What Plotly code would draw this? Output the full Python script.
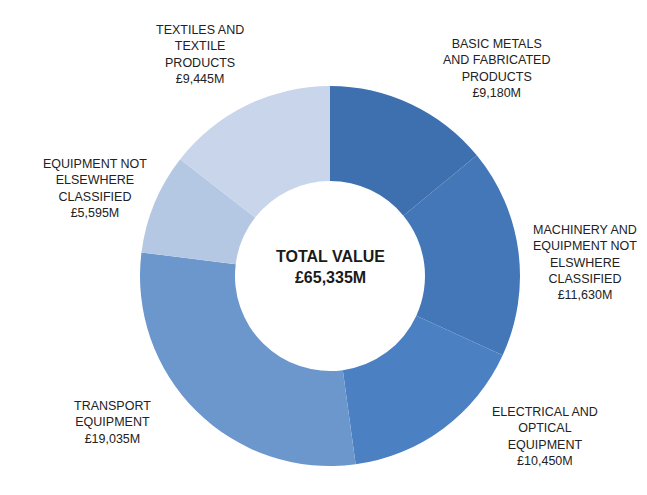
import plotly.graph_objects as go

categories = [
    "BASIC METALS<br>AND FABRICATED<br>PRODUCTS",
    "MACHINERY AND<br>EQUIPMENT NOT<br>ELSWHERE<br>CLASSIFIED",
    "ELECTRICAL AND<br>OPTICAL<br>EQUIPMENT",
    "TRANSPORT<br>EQUIPMENT",
    "EQUIPMENT NOT<br>ELSEWHERE<br>CLASSIFIED",
    "TEXTILES AND<br>TEXTILE<br>PRODUCTS",
]
values = [9180, 11630, 10450, 19035, 5595, 9445]
colors = ["#3E70B0", "#4377B8", "#4B80C3", "#6C97CD", "#B5C8E3", "#C8D5EA"]

# label anchor positions in page pixels (style only)
label_pos = [
    (496, 68), (585, 262), (545, 436), (112, 422), (95, 188), (200, 54),
]

W, H = 647, 495
OFF = 8  # browser default body margin
total = sum(values)


def px2x(px):
    return (px - OFF) / W


def py2y(py):
    return 1 - (py - OFF) / H


cx, cy, r = 330, 276, 190

fig = go.Figure(go.Pie(
    values=values,
    labels=[c.replace("<br>", " ") for c in categories],
    marker=dict(colors=colors, line=dict(width=0)),
    hole=0.5,
    sort=False,
    direction="clockwise",
    rotation=0,
    textinfo="none",
    hoverinfo="label+value",
    domain=dict(x=[px2x(cx - r), px2x(cx + r)],
                y=[py2y(cy + r), py2y(cy - r)]),
    showlegend=False,
))

annotations = []
for cat, val, (px, py) in zip(categories, values, label_pos):
    annotations.append(dict(
        x=px2x(px), y=py2y(py), xref="paper", yref="paper",
        text=f"{cat}<br>£{val:,}M", showarrow=False,
        xanchor="center", yanchor="middle", align="center",
        font=dict(family="Liberation Sans, Arial, sans-serif", size=12.5, color="#222222"),
    ))
annotations.append(dict(
    x=px2x(330), y=py2y(267), xref="paper", yref="paper",
    text=f"<b>TOTAL VALUE<br>£{total:,}M</b>", showarrow=False,
    xanchor="center", yanchor="middle", align="center",
    font=dict(family="Liberation Sans, Arial, sans-serif", size=16, color="#1a1a1a"),
))

fig.update_layout(
    width=W, height=H,
    margin=dict(l=0, r=0, t=0, b=0),
    paper_bgcolor="white", plot_bgcolor="white",
    annotations=annotations,
)
fig.write_html("out.html")
